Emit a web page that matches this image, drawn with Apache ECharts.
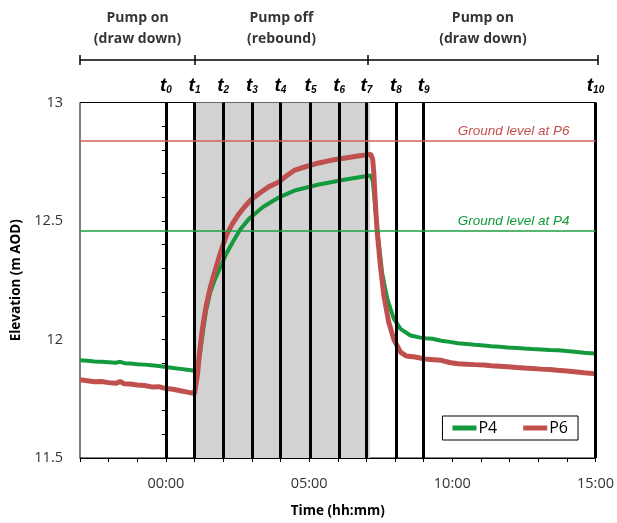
<!DOCTYPE html>
<html>
<head>
<meta charset="utf-8">
<script src="https://cdn.jsdelivr.net/npm/echarts@6.0.0/dist/echarts.min.js"></script>
<style>
html,body{margin:0;padding:0;background:#fff;}
#chart{width:617px;height:523px;}
</style>
</head>
<body>
<div id="chart"></div>
<script>
// ---- data ----
var p6Times = [-3.0,-2.75,-2.5,-2.25,-2.0,-1.75,-1.6,-1.45,-1.25,-1.0,-0.75,-0.5,-0.25,0.0,0.25,0.5,0.75,1.0,1.05,1.1,1.17,1.28,1.4,1.55,1.69,1.85,1.98,2.15,2.33,2.55,2.75,2.97,3.3,3.6,3.95,4.2,4.5,4.9,5.34,5.8,6.27,6.7,7.0,7.15,7.22,7.26,7.32,7.38,7.49,7.61,7.78,7.96,8.19,8.4,8.7,9.05,9.35,9.62,9.9,10.2,10.5,10.78,11.1,11.36,11.65,11.94,12.25,12.52,12.8,13.1,13.4,13.68,14.0,14.26,14.6,14.95];
var p6Values = [11.830,11.826,11.822,11.823,11.818,11.815,11.823,11.813,11.812,11.808,11.806,11.800,11.801,11.793,11.790,11.784,11.778,11.772,11.770,11.85,11.94,12.05,12.14,12.22,12.28,12.345,12.395,12.45,12.49,12.53,12.56,12.59,12.62,12.645,12.665,12.69,12.715,12.73,12.745,12.757,12.766,12.774,12.779,12.782,12.76,12.70,12.56,12.45,12.31,12.185,12.073,12.0,11.947,11.93,11.926,11.918,11.915,11.912,11.903,11.898,11.896,11.894,11.892,11.889,11.887,11.885,11.882,11.880,11.878,11.875,11.873,11.870,11.867,11.864,11.860,11.856];

var p4Times = [-3.0,-2.75,-2.5,-2.25,-2.0,-1.75,-1.6,-1.45,-1.25,-1.0,-0.75,-0.5,-0.25,0.0,0.25,0.5,0.75,1.0,1.1,1.2,1.3,1.4,1.55,1.7,1.92,2.1,2.33,2.6,2.91,3.2,3.4,3.95,4.53,5.34,6.27,6.8,7.15,7.22,7.28,7.35,7.43,7.55,7.73,7.96,8.19,8.54,8.88,9.05,9.3,9.62,9.9,10.2,10.5,10.78,11.1,11.36,11.65,11.94,12.25,12.52,12.8,13.1,13.4,13.68,14.0,14.26,14.6,14.95];
var p4Values = [11.912,11.910,11.907,11.906,11.904,11.902,11.906,11.900,11.899,11.896,11.894,11.891,11.888,11.884,11.880,11.876,11.872,11.868,11.875,11.95,12.04,12.12,12.20,12.25,12.31,12.36,12.41,12.465,12.51,12.54,12.56,12.60,12.63,12.654,12.675,12.686,12.692,12.67,12.60,12.50,12.41,12.28,12.17,12.087,12.045,12.017,12.008,12.005,12.003,11.995,11.99,11.984,11.981,11.978,11.975,11.972,11.969,11.966,11.964,11.962,11.960,11.958,11.956,11.955,11.951,11.948,11.944,11.941];

var tLineTimes = [0, 1, 2, 3, 4, 5.05, 6.05, 7, 8.03, 9, 15];
var tLineSubs = ['0','1','2','3','4','5','6','7','8','9','10'];

var reboundRange = [1, 7.12];

var phaseBounds = [-3, 1, 7, 15];
var phaseLabels = ['Pump on\n(draw down)', 'Pump off\n(rebound)', 'Pump on\n(draw down)'];

var groundLevels = [12.84, 12.455];
var groundLabels = ['Ground level at P6', 'Ground level at P4'];

var xTickValues = [0, 5, 10, 15];
var xTickLabels = ['00:00', '05:00', '10:00', '15:00'];

// ---- build ----
function pairs(ts, vs){ var o=[]; for(var i=0;i<ts.length;i++){o.push([ts[i],vs[i]]);} return o; }

var RED = '#c0504d', GREEN = '#139a3c';
var FONT = '"Open Sans", sans-serif';

var chart = echarts.init(document.getElementById('chart'), null, {renderer:'canvas'});

var vLines = tLineTimes.map(function(t,i){
  return {xAxis: t, label: {formatter: '{t|t}{s|' + tLineSubs[i] + '}'}};
});

var midPoints = [];
for (var i=0;i<phaseBounds.length-1;i++){ midPoints.push([(phaseBounds[i]+phaseBounds[i+1])/2, 1]); }

var option = {
  animation: false,
  grid: [
    {left: 80, right: 19, top: 102.5, bottom: 63, show: true, borderColor: '#000', borderWidth: 1, backgroundColor: 'transparent'},
    {left: 80, right: 19, top: 55, height: 10}
  ],
  xAxis: [
    {
      type: 'value', gridIndex: 0, min: -3, max: 15, interval: 1,
      name: 'Time (hh:mm)', nameLocation: 'middle', nameGap: 46,
      nameTextStyle: {fontFamily: FONT, fontWeight: 'bold', fontSize: 13.5, color: '#000'},
      axisLine: {lineStyle: {color: '#000', width: 1}},
      axisTick: {show: true, length: 4, inside: false, lineStyle: {color: '#000'}},
      axisLabel: {
        margin: 18, fontFamily: FONT, fontSize: 14.5, color: '#333',
        showMinLabel: true, showMaxLabel: true,
        formatter: function(v){ var k = xTickValues.indexOf(Math.round(v*1000)/1000); return k >= 0 ? xTickLabels[k] : ''; }
      },
      splitLine: {show: false}
    },
    {type: 'value', gridIndex: 1, min: -3, max: 15, show: false}
  ],
  yAxis: [
    {
      type: 'value', gridIndex: 0, min: 11.5, max: 13, interval: 0.5,
      name: 'Elevation (m AOD)', nameLocation: 'middle', nameGap: 55, nameRotate: 90,
      nameTextStyle: {fontFamily: FONT, fontWeight: 'bold', fontSize: 13.5, color: '#000'},
      axisLine: {show: true, lineStyle: {color: '#000', width: 1}},
      axisTick: {show: true, length: 4, lineStyle: {color: '#000'}},
      minorTick: {show: true, splitNumber: 5, length: 4, lineStyle: {color: '#000'}},
      axisLabel: {margin: 17, fontFamily: FONT, fontSize: 14.5, color: '#333',
        formatter: function(v){ return String(Math.round(v*10)/10); }},
      splitLine: {show: false}
    },
    {type: 'value', gridIndex: 1, min: 0, max: 1, show: false}
  ],
  legend: {
    data: ['P4', 'P6'], right: 39, top: 416,
    borderColor: '#000', borderWidth: 1, borderRadius: 0, padding: [4, 10, 4, 10],
    itemWidth: 24, itemHeight: 5, itemGap: 26, icon: 'rect',
    textStyle: {fontFamily: FONT, fontSize: 16, color: '#000', padding: [0,0,0,-3]},
    backgroundColor: '#fff'
  },
  series: [
    { // shaded rebound period
      type: 'line', xAxisIndex: 0, yAxisIndex: 0, data: [], z: 1, silent: true,
      markArea: {silent: true, itemStyle: {color: '#d2d2d2'}, data: [[{xAxis: reboundRange[0]}, {xAxis: reboundRange[1]}]]}
    },
    { // vertical time marks
      type: 'line', xAxisIndex: 0, yAxisIndex: 0, data: [], z: 2, silent: true,
      markLine: {
        silent: true, symbol: ['none','none'], animation: false,
        lineStyle: {color: '#000', width: 3, type: 'solid'},
        label: {
          show: true, position: 'end', distance: 7,
          rich: {
            t: {fontFamily: '"Liberation Sans", Arial, sans-serif', fontSize: 19, fontWeight: 'bold', fontStyle: 'italic', color: '#000'},
            s: {fontFamily: '"Liberation Sans", Arial, sans-serif', fontSize: 10, fontWeight: 'bold', fontStyle: 'italic', color: '#000', verticalAlign: 'bottom'}
          }
        },
        data: vLines
      }
    },
    { // ground levels
      type: 'line', xAxisIndex: 0, yAxisIndex: 0, data: [], z: 2, silent: true,
      markLine: {
        silent: true, symbol: ['none','none'], animation: false,
        data: [
          {yAxis: groundLevels[0], lineStyle: {color: '#d0605d', width: 1.5, type: 'solid'},
           label: {show: true, position: 'insideEndTop', distance: [26, 2], formatter: groundLabels[0], color: '#c0504d', fontFamily: '"Liberation Sans", Arial, sans-serif', fontStyle: 'italic', fontSize: 13.5}},
          {yAxis: groundLevels[1], lineStyle: {color: '#1ea040', width: 1.5, type: 'solid'},
           label: {show: true, position: 'insideEndTop', distance: [26, 2], formatter: groundLabels[1], color: '#0f9a36', fontFamily: '"Liberation Sans", Arial, sans-serif', fontStyle: 'italic', fontSize: 13.5}}
        ]
      }
    },
    {
      name: 'P4', type: 'line', xAxisIndex: 0, yAxisIndex: 0, z: 3,
      data: pairs(p4Times, p4Values), showSymbol: false, symbol: 'none',
      lineStyle: {color: GREEN, width: 4}, itemStyle: {color: GREEN}
    },
    {
      name: 'P6', type: 'line', xAxisIndex: 0, yAxisIndex: 0, z: 4,
      data: pairs(p6Times, p6Values), showSymbol: false, symbol: 'none',
      lineStyle: {color: RED, width: 5}, itemStyle: {color: RED}
    },
    { // phase bracket
      type: 'line', xAxisIndex: 1, yAxisIndex: 1, silent: true, symbol: 'none',
      data: [[phaseBounds[0], 0.5], [phaseBounds[phaseBounds.length-1], 0.5]],
      lineStyle: {color: '#000', width: 1.5},
      markLine: {
        silent: true, symbol: ['none','none'], label: {show: false},
        lineStyle: {color: '#000', width: 1.5, type: 'solid'},
        data: phaseBounds.map(function(b){ return {xAxis: b}; })
      }
    },
    { // phase labels
      type: 'scatter', xAxisIndex: 1, yAxisIndex: 1, silent: true, symbolSize: 0,
      data: midPoints,
      label: {
        show: true, position: 'top', distance: 5,
        fontFamily: FONT, fontWeight: 'bold', fontSize: 14, color: '#000', lineHeight: 21, align: 'center',
        formatter: function(p){ return phaseLabels[p.dataIndex]; }
      }
    }
  ]
};
chart.setOption(option);
</script>
</body>
</html>
